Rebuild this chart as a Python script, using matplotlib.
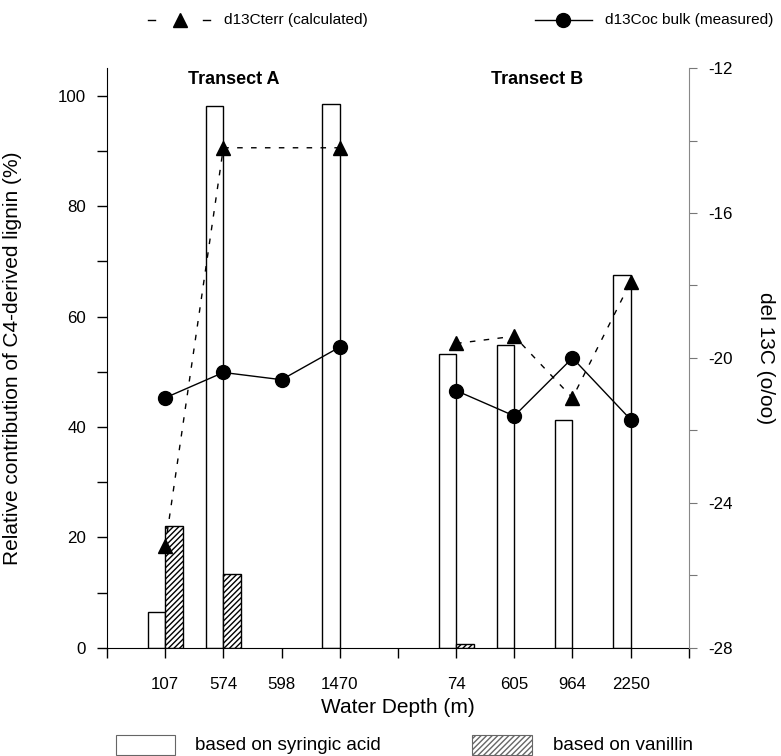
import numpy as np
import matplotlib
matplotlib.use("Agg")
import matplotlib.pyplot as plt
from matplotlib.lines import Line2D
from matplotlib.patches import Rectangle

plt.rcParams["font.family"] = ["Liberation Sans", "DejaVu Sans"]
plt.rcParams["axes.unicode_minus"] = False

# ---- data ----
depths_a = ["107", "574", "598", "1470"]
depths_b = ["74", "605", "964", "2250"]
syringic_a = [6.5, 98.2, 0.0, 98.5]
syringic_b = [53.3, 54.8, 41.2, 67.6]
vanillin_a = [22.0, 13.4, 0.0, 0.0]
vanillin_b = [0.7, 0.0, 0.0, 0.0]
d13c_terr_a = [-25.2, -14.2, np.nan, -14.2]
d13c_terr_b = [-19.6, -19.4, -21.1, -17.9]
d13c_oc_a = [-21.1, -20.4, -20.6, -19.7]
d13c_oc_b = [-20.9, -21.6, -20.0, -21.7]

pos_a = np.arange(1, 5)
pos_b = np.arange(6, 10)
W = 0.3
TS = 12.2   # tick labels


def nz(v):  # zero-height bars are not drawn in the original
    v = np.asarray(v, dtype=float)
    return np.where(v > 0, v, np.nan)


fig = plt.figure(figsize=(7.81, 7.56), dpi=100)
ax = fig.add_axes([0.137, 0.143, 0.745, 0.767])

for pos, syr, van in ((pos_a, syringic_a, vanillin_a), (pos_b, syringic_b, vanillin_b)):
    ax.bar(pos - W / 2, nz(syr), W, color="white", edgecolor="black", lw=1.0, zorder=2)
    ax.bar(pos + W / 2, nz(van), W, color="white", edgecolor="black", lw=1.0,
           hatch="//////", zorder=2)

ax.set_xlim(0, 10)
ax.set_ylim(0, 105)
ax.set_xticks(np.arange(0, 11))
ax.set_xticklabels([""] + depths_a + [""] + depths_b + [""])
ax.set_yticks([0, 20, 40, 60, 80, 100])
ax.set_yticks(np.arange(10, 101, 20), minor=True)
ax.tick_params(axis="both", direction="out", length=7, width=1.0, labelsize=TS)
ax.tick_params(axis="y", which="minor", direction="out", length=7, width=1.0)
ax.tick_params(axis="x", pad=14)
ax.tick_params(axis="y", pad=8)
ax.spines["top"].set_visible(False)
ax.spines["right"].set_visible(False)
ax.set_xlabel("Water Depth (m)", fontsize=15, labelpad=4)
ax.set_ylabel("Relative contribution of C4-derived lignin (%)", fontsize=15)
ax.yaxis.set_label_coords(-0.146, 0.5)

ax.text(2.17, 103, "Transect A", ha="center", va="center", fontsize=13, fontweight="bold")
ax.text(7.39, 103, "Transect B", ha="center", va="center", fontsize=13, fontweight="bold")

# ---- right axis: d13C ----
ax2 = ax.twinx()
ax2.set_ylim(-28, -12)
ax2.set_yticks([-28, -24, -20, -16, -12])
ax2.set_yticks([-26, -22, -18, -14], minor=True)
ax2.tick_params(axis="y", which="both", direction="out", length=6, width=0.8,
                color="#777777", labelsize=TS, pad=8)
for s in ("top", "left", "bottom"):
    ax2.spines[s].set_visible(False)
ax2.spines["right"].set_color("#888888")
ax2.spines["right"].set_linewidth(0.8)
ax2.set_ylabel("del 13C (o/oo)", fontsize=15, rotation=270, va="center")
ax2.yaxis.set_label_coords(1.131, 0.5)

for pos, terr, oc in ((pos_a, d13c_terr_a, d13c_oc_a), (pos_b, d13c_terr_b, d13c_oc_b)):
    terr = np.asarray(terr)
    ok = ~np.isnan(terr)
    ax2.plot(pos[ok], terr[ok], ls=(0, (4, 6)), color="black", lw=1.0,
             marker="^", ms=10, zorder=3)
    ax2.plot(pos, oc, ls="-", color="black", lw=1.0, marker="o", ms=10, zorder=3)

# ---- top legend (figure coords) ----
fy = 1 - 20 / 756
for x0, x1 in ((148, 155), (203, 210)):
    fig.add_artist(Line2D([x0 / 781, x1 / 781], [fy, fy], color="black", lw=1.0,
                          transform=fig.transFigure))
fig.add_artist(Line2D([180 / 781], [fy], marker="^", ms=10, color="black",
                      transform=fig.transFigure))
fig.text(224 / 781, fy, "d13Cterr (calculated)", fontsize=11.1, va="center")
fig.add_artist(Line2D([535 / 781, 592 / 781], [fy, fy], color="black", lw=1.0,
                      transform=fig.transFigure))
fig.add_artist(Line2D([563 / 781], [fy], marker="o", ms=10, color="black",
                      transform=fig.transFigure))
fig.text(605 / 781, fy, "d13Coc bulk (measured)", fontsize=11.1, va="center")

# ---- bottom legend ----
by = 1 - 745 / 756
fig.add_artist(Rectangle((116 / 781, 1 - 755 / 756), 59 / 781, 20 / 756, fc="white",
                         ec="#666666", lw=0.8, transform=fig.transFigure))
fig.text(195 / 781, by, "based on syringic acid", fontsize=13.6, va="center")
fig.add_artist(Rectangle((472 / 781, 1 - 755 / 756), 60 / 781, 20 / 756, fc="white",
                         ec="#666666", lw=0.8, hatch="//////", transform=fig.transFigure))
fig.text(553 / 781, by, "based on vanillin", fontsize=13.6, va="center")

fig.savefig("out.png", dpi=100)
